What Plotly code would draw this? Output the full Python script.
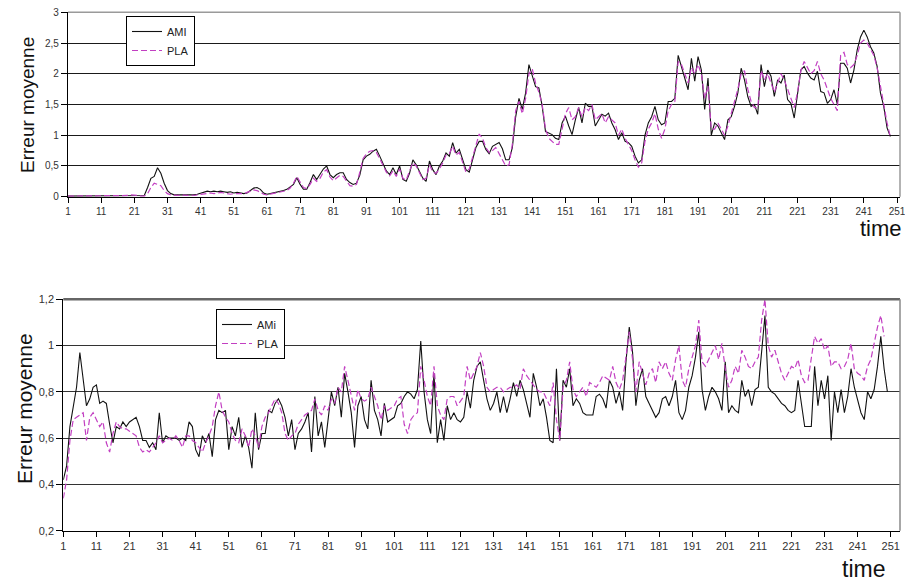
import plotly.graph_objects as go

# ---------------- data ----------------
top_ami = [
    0.01,0.01,0.01,0.01,0.01,0.01,0.01,0.01,0.01,0.01,
    0.01,0.01,0.01,0.01,0.02,0.02,0.02,0.02,0.02,0.02,
    0.02,0.02,0.02,0.02,0.15,0.30,0.33,0.47,0.38,0.22,
    0.10,0.05,0.03,0.03,0.02,0.03,0.03,0.02,0.03,0.04,
    0.06,0.08,0.09,0.08,0.09,0.08,0.09,0.08,0.07,0.08,
    0.06,0.07,0.06,0.05,0.06,0.10,0.14,0.15,0.12,0.06,
    0.04,0.05,0.06,0.07,0.09,0.10,0.12,0.16,0.20,0.31,
    0.20,0.12,0.12,0.23,0.36,0.28,0.36,0.45,0.50,0.36,
    0.31,0.36,0.39,0.39,0.28,0.23,0.20,0.22,0.35,0.60,
    0.66,0.69,0.74,0.77,0.66,0.55,0.42,0.36,0.47,0.36,
    0.50,0.28,0.25,0.38,0.60,0.52,0.40,0.30,0.25,0.58,
    0.44,0.36,0.50,0.58,0.71,0.66,0.88,0.71,0.77,0.60,
    0.44,0.40,0.60,0.80,0.90,0.90,0.77,0.70,0.82,0.85,
    0.88,0.78,0.60,0.60,0.80,1.30,1.60,1.42,1.69,2.15,
    1.95,1.79,1.77,1.47,1.06,1.04,1.01,0.95,0.93,1.20,
    1.31,1.15,1.01,1.25,1.45,1.20,1.52,1.47,1.47,1.15,
    1.25,1.34,1.31,1.36,1.20,1.09,0.93,1.04,0.90,0.88,
    0.82,0.66,0.55,0.60,1.00,1.20,1.30,1.47,1.25,1.17,
    1.20,1.55,1.55,1.60,2.30,2.10,1.90,1.74,2.25,1.88,
    2.28,2.06,1.42,1.93,1.00,1.20,1.15,1.05,0.93,1.25,
    1.30,1.47,1.69,2.09,1.90,1.63,1.47,1.50,1.34,2.15,
    1.79,2.06,1.96,1.63,1.90,1.85,1.98,1.58,1.52,1.28,
    1.69,2.06,2.12,2.01,1.93,1.90,2.04,1.71,1.69,1.52,
    1.58,1.74,1.50,2.17,2.17,2.09,1.85,2.06,2.39,2.60,
    2.71,2.60,2.44,2.34,2.12,1.69,1.47,1.12,0.98,
]
top_pla = [
    0.01,0.01,0.01,0.01,0.01,0.01,0.01,0.01,0.01,0.01,
    0.01,0.01,0.01,0.01,0.01,0.01,0.01,0.02,0.02,0.03,
    0.03,0.02,0.01,0.01,0.05,0.15,0.22,0.20,0.18,0.10,
    0.05,0.03,0.02,0.02,0.03,0.02,0.02,0.03,0.02,0.03,
    0.04,0.05,0.06,0.06,0.05,0.06,0.07,0.06,0.05,0.04,
    0.05,0.05,0.04,0.05,0.07,0.09,0.11,0.10,0.07,0.04,
    0.03,0.04,0.05,0.06,0.07,0.08,0.10,0.14,0.22,0.33,
    0.24,0.15,0.13,0.20,0.30,0.25,0.30,0.40,0.44,0.32,
    0.26,0.30,0.35,0.33,0.25,0.18,0.17,0.20,0.40,0.62,
    0.70,0.74,0.75,0.72,0.62,0.50,0.40,0.34,0.42,0.33,
    0.45,0.30,0.27,0.42,0.55,0.50,0.38,0.28,0.30,0.52,
    0.40,0.38,0.45,0.55,0.68,0.70,0.82,0.68,0.72,0.55,
    0.40,0.45,0.65,0.85,1.02,0.95,0.80,0.72,0.75,0.80,
    0.70,0.60,0.50,0.52,0.85,1.40,1.55,1.35,1.60,2.00,
    2.08,1.85,1.70,1.50,1.10,0.95,0.90,0.85,0.85,1.10,
    1.35,1.45,1.25,1.30,1.45,1.30,1.45,1.40,1.50,1.25,
    1.30,1.35,1.20,1.30,1.25,1.20,1.00,1.10,0.95,0.85,
    0.75,0.60,0.48,0.55,0.90,1.10,1.20,1.35,1.10,0.95,
    1.10,1.40,1.50,1.55,2.20,2.15,2.00,1.85,2.10,2.00,
    2.15,2.00,1.60,1.80,1.10,1.10,1.20,1.10,1.00,1.15,
    1.35,1.55,1.75,2.00,2.05,1.75,1.55,1.45,1.45,2.05,
    1.90,2.00,1.85,1.70,1.85,2.00,1.90,1.75,1.60,1.45,
    1.70,2.05,2.20,2.10,2.00,2.05,2.20,2.00,1.90,1.75,
    1.60,1.50,1.40,2.30,2.35,2.15,2.10,2.15,2.30,2.50,
    2.55,2.50,2.40,2.30,2.10,1.80,1.50,1.20,0.97,
]
bot_ami = [
    0.42,0.48,0.65,0.73,0.82,0.97,0.85,0.74,0.77,0.82,
    0.83,0.75,0.76,0.75,0.66,0.58,0.65,0.64,0.67,0.65,
    0.67,0.68,0.69,0.65,0.59,0.59,0.56,0.58,0.55,0.71,
    0.58,0.61,0.60,0.60,0.60,0.59,0.60,0.59,0.67,0.65,
    0.55,0.52,0.61,0.58,0.62,0.52,0.68,0.72,0.71,0.72,
    0.55,0.65,0.61,0.69,0.56,0.61,0.56,0.47,0.71,0.55,
    0.62,0.62,0.72,0.71,0.75,0.77,0.74,0.69,0.61,0.68,
    0.55,0.62,0.64,0.67,0.71,0.54,0.78,0.61,0.67,0.56,
    0.68,0.80,0.74,0.82,0.69,0.88,0.80,0.71,0.56,0.74,
    0.78,0.68,0.64,0.85,0.72,0.68,0.61,0.75,0.67,0.68,
    0.69,0.74,0.75,0.78,0.80,0.79,0.77,0.81,1.02,0.80,
    0.68,0.62,0.88,0.58,0.68,0.59,0.74,0.68,0.71,0.68,
    0.67,0.69,0.80,0.73,0.85,0.91,0.93,0.85,0.77,0.72,
    0.75,0.80,0.71,0.78,0.71,0.77,0.84,0.78,0.85,0.81,
    0.75,0.69,0.88,0.82,0.74,0.77,0.69,0.59,0.58,0.90,
    0.59,0.85,0.82,0.90,0.74,0.77,0.75,0.71,0.70,0.70,
    0.70,0.78,0.79,0.77,0.73,0.85,0.82,0.75,0.80,0.72,
    0.93,1.08,0.97,0.74,0.85,0.90,0.78,0.75,0.72,0.69,
    0.71,0.77,0.78,0.74,0.78,0.85,0.71,0.68,0.72,0.82,
    0.87,0.95,1.06,0.81,0.72,0.78,0.82,0.80,0.77,0.72,
    0.93,0.71,0.74,0.72,0.71,0.85,0.78,0.81,0.74,0.81,
    0.82,0.97,1.13,0.82,0.80,0.79,0.77,0.75,0.74,0.72,
    0.71,0.72,0.85,0.74,0.65,0.65,0.65,0.91,0.74,0.85,
    0.77,0.87,0.59,0.80,0.71,0.81,0.71,0.78,0.90,0.82,
    0.77,0.71,0.68,0.80,0.77,0.81,0.91,1.04,0.90,0.80,
]
bot_pla = [
    0.34,0.42,0.59,0.68,0.69,0.70,0.71,0.59,0.69,0.71,
    0.68,0.65,0.67,0.58,0.54,0.62,0.67,0.65,0.64,0.64,
    0.63,0.62,0.61,0.56,0.54,0.55,0.54,0.56,0.58,0.61,
    0.58,0.59,0.60,0.59,0.61,0.59,0.56,0.61,0.61,0.59,
    0.58,0.56,0.54,0.58,0.61,0.65,0.74,0.80,0.72,0.69,
    0.67,0.62,0.59,0.58,0.64,0.61,0.56,0.64,0.61,0.56,
    0.65,0.69,0.71,0.74,0.77,0.75,0.71,0.62,0.59,0.61,
    0.62,0.66,0.68,0.70,0.71,0.72,0.77,0.72,0.70,0.74,
    0.72,0.77,0.75,0.82,0.80,0.91,0.85,0.78,0.72,0.81,
    0.77,0.76,0.77,0.82,0.78,0.74,0.68,0.74,0.72,0.73,
    0.74,0.77,0.78,0.66,0.62,0.68,0.70,0.71,0.91,0.85,
    0.78,0.74,0.91,0.74,0.70,0.68,0.77,0.78,0.78,0.74,
    0.76,0.78,0.91,0.85,0.88,0.91,0.97,0.91,0.82,0.80,
    0.81,0.82,0.82,0.80,0.81,0.82,0.82,0.83,0.81,0.90,
    0.87,0.85,0.83,0.81,0.80,0.80,0.77,0.74,0.84,0.68,
    0.59,0.82,0.85,0.93,0.81,0.78,0.80,0.82,0.78,0.84,
    0.83,0.82,0.84,0.87,0.86,0.85,0.91,0.84,0.81,0.85,
    0.95,1.06,0.94,0.80,0.93,0.88,0.83,0.88,0.90,0.84,
    0.93,0.90,0.93,0.88,0.85,0.94,1.00,0.85,0.82,0.90,
    0.95,1.00,1.11,0.93,0.91,0.94,0.97,1.00,0.94,1.01,
    0.90,0.82,0.85,0.91,0.88,0.98,0.95,0.91,0.90,0.93,
    0.95,1.11,1.20,1.00,0.95,0.98,0.93,0.88,0.85,0.88,
    0.91,0.90,0.94,0.87,0.84,0.85,0.95,1.04,1.01,1.03,
    0.98,1.00,0.91,0.93,0.93,0.90,0.91,0.94,1.01,0.90,
    0.88,0.87,0.85,0.91,0.94,1.01,1.08,1.13,1.04,
]
x_tick_vals = list(range(1, 252, 10))
x_tick_text = [str(v) for v in x_tick_vals]
top_y_vals = [0, 0.5, 1, 1.5, 2, 2.5, 3]
top_y_text = ["0", "0,5", "1", "1,5", "2", "2,5", "3"]
bot_y_vals = [0.2, 0.4, 0.6, 0.8, 1.0, 1.2]
bot_y_text = ["0,2", "0,4", "0,6", "0,8", "1", "1,2"]
series_names_top = ["AMI", "PLA"]
series_names_bot = ["AMi", "PLA"]

# ---------------- figure ----------------
W, H = 905, 582
BLACK = "#111111"
PINK = "#C23FC2"
DASH = "6px,3px"
FONT = "Arial, Liberation Sans, sans-serif"

fig = go.Figure()
fig.add_trace(go.Scatter(x=list(range(1, len(top_ami) + 1)), y=top_ami, name=series_names_top[0],
                         mode="lines", line=dict(color=BLACK, width=1.1), xaxis="x", yaxis="y",
                         legend="legend"))
fig.add_trace(go.Scatter(x=list(range(1, len(top_pla) + 1)), y=top_pla, name=series_names_top[1],
                         mode="lines", line=dict(color=PINK, width=1.2, dash=DASH), xaxis="x", yaxis="y",
                         legend="legend"))
fig.add_trace(go.Scatter(x=list(range(1, len(bot_ami) + 1)), y=bot_ami, name=series_names_bot[0],
                         mode="lines", line=dict(color=BLACK, width=1.1), xaxis="x2", yaxis="y2",
                         legend="legend2"))
fig.add_trace(go.Scatter(x=list(range(1, len(bot_pla) + 1)), y=bot_pla, name=series_names_bot[1],
                         mode="lines", line=dict(color=PINK, width=1.2, dash=DASH), xaxis="x2", yaxis="y2",
                         legend="legend2"))

def px_x(p):
    return p / W

def px_y(p):
    return 1 - p / H

tick_font = dict(family=FONT, size=10, color="#333333")
tick_font2 = dict(family=FONT, size=11, color="#333333")

fig.update_layout(
    width=W, height=H,
    margin=dict(l=0, r=0, t=0, b=0, autoexpand=False),
    paper_bgcolor="white", plot_bgcolor="white",
    showlegend=True,
    xaxis=dict(domain=[px_x(68), px_x(900)], anchor="y", range=[1, 251.9],
               tickmode="array", tickvals=x_tick_vals, ticktext=x_tick_text,
               ticks="outside", ticklen=5, tickcolor="black", tickfont=tick_font,
               ticklabeloverflow="allow",
               showline=True, linecolor="black", linewidth=1.2, showgrid=False, zeroline=False,
               automargin=False),
    yaxis=dict(domain=[px_y(196.7), px_y(12.3)], anchor="x", range=[0, 3],
               tickmode="array", tickvals=top_y_vals, ticktext=top_y_text,
               ticks="outside", ticklen=6, tickcolor="black", tickfont=tick_font,
               showline=True, linecolor="black", linewidth=1.2,
               showgrid=True, gridcolor="#1a1a1a", gridwidth=1.3, zeroline=False,
               automargin=False),
    xaxis2=dict(domain=[px_x(63.3), px_x(900)], anchor="y2", range=[1, 253.8],
                tickmode="array", tickvals=x_tick_vals, ticktext=x_tick_text,
                ticks="outside", ticklen=5, tickcolor="black", tickfont=tick_font2,
                ticklabeloverflow="allow",
                showline=True, linecolor="black", linewidth=1.2, showgrid=False, zeroline=False,
                automargin=False),
    yaxis2=dict(domain=[px_y(530.7), px_y(299.3)], anchor="x2", range=[0.2, 1.2],
                tickmode="array", tickvals=bot_y_vals, ticktext=bot_y_text,
                ticks="outside", ticklen=6, tickcolor="black", tickfont=tick_font2,
                showline=True, linecolor="black", linewidth=1.2,
                showgrid=True, gridcolor="#333333", gridwidth=1.1, zeroline=False,
                automargin=False),
    legend=dict(x=px_x(126), y=px_y(16), xanchor="left", yanchor="top",
                bgcolor="white", bordercolor="black", borderwidth=1,
                font=dict(family=FONT, size=11, color="#222222"),
                itemwidth=30, tracegroupgap=0),
    legend2=dict(x=px_x(216), y=px_y(309), xanchor="left", yanchor="top",
                 bgcolor="white", bordercolor="black", borderwidth=1,
                 font=dict(family=FONT, size=11, color="#222222"),
                 itemwidth=30, tracegroupgap=0),
)

# frame lines (top / right) in gray, as in the reference
fig.add_shape(type="line", xref="x domain", yref="y domain", x0=0, x1=1, y0=1, y1=1,
              line=dict(color="#9a9a9a", width=1.5))
fig.add_shape(type="line", xref="x domain", yref="y domain", x0=1, x1=1, y0=0, y1=1,
              line=dict(color="#9a9a9a", width=1.5))
fig.add_shape(type="line", xref="x2 domain", yref="y2 domain", x0=0, x1=1, y0=1, y1=1,
              line=dict(color="#666666", width=2.5))
fig.add_shape(type="line", xref="x2 domain", yref="y2 domain", x0=1, x1=1, y0=0, y1=1,
              line=dict(color="#8a8a8a", width=1.5))

title_font = dict(family=FONT, color="#111111")
common = dict(xref="paper", yref="paper", showarrow=False, xanchor="center", yanchor="middle")
fig.add_annotation(text="Erreur moyenne", x=px_x(27), y=px_y(105), textangle=-90,
                   font=dict(size=19, **title_font), **common)
fig.add_annotation(text="Erreur moyenne", x=px_x(25), y=px_y(409), textangle=-90,
                   font=dict(size=21, **title_font), **common)
fig.add_annotation(text="time", x=px_x(881), y=px_y(229),
                   font=dict(size=22, **title_font), **common)
fig.add_annotation(text="time", x=px_x(863), y=px_y(569),
                   font=dict(size=23, **title_font), **common)

fig.write_html("out.html", config={"displayModeBar": False},
               post_script="document.body.style.margin='0px';document.body.style.overflow='hidden';")
